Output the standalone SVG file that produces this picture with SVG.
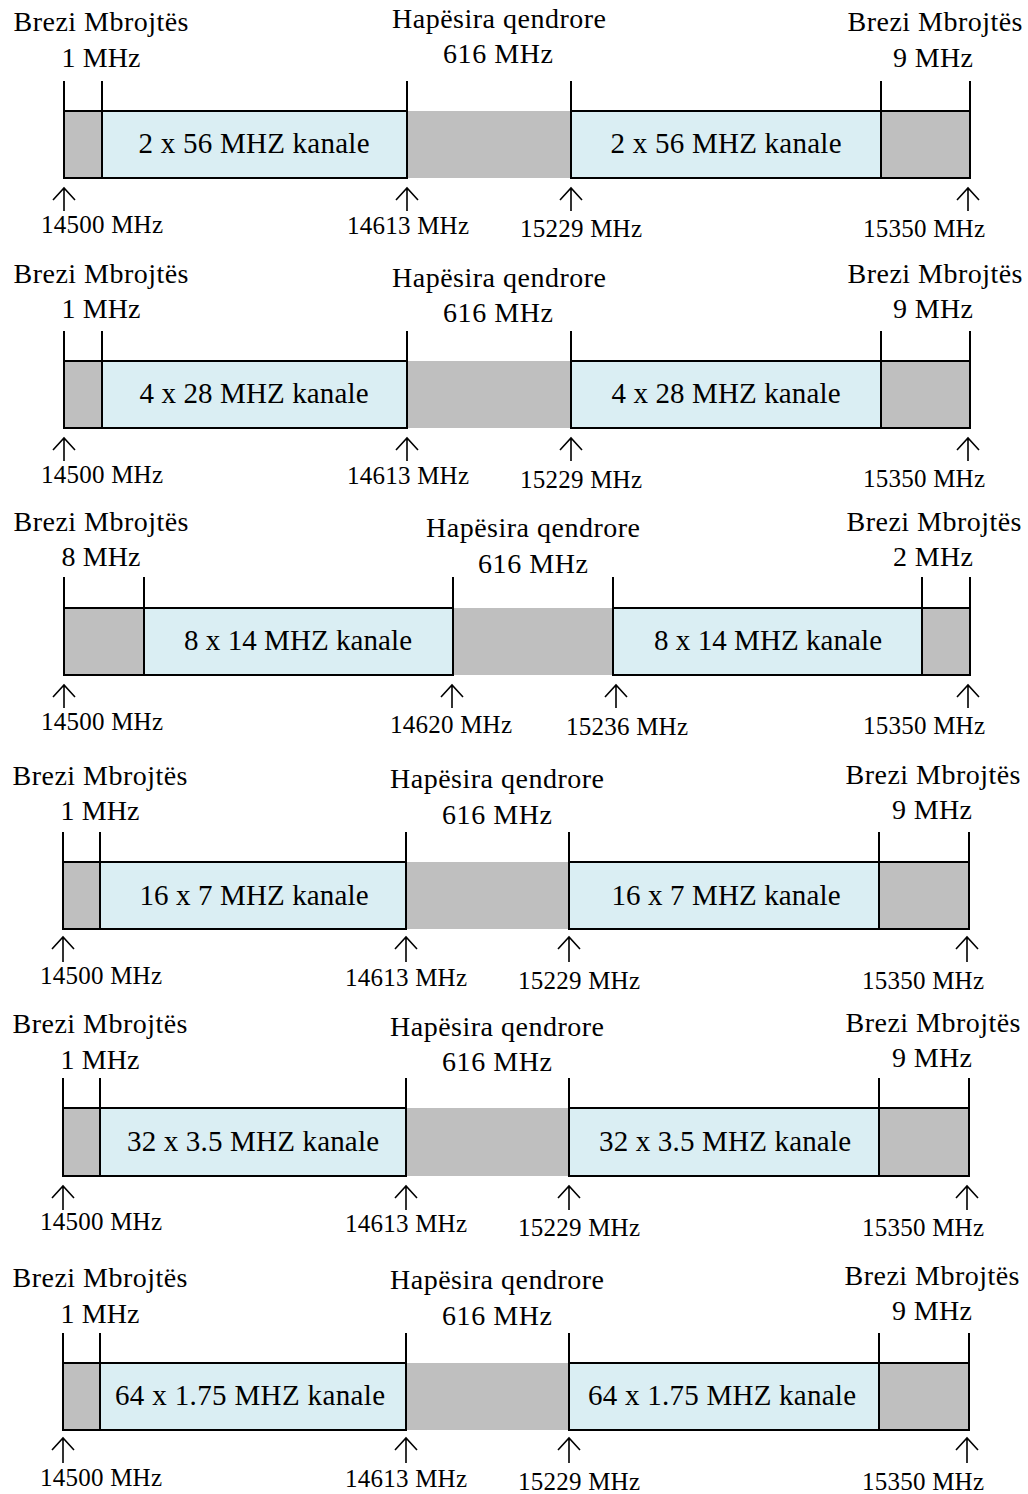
<svg xmlns="http://www.w3.org/2000/svg" width="1028" height="1494" viewBox="0 0 1028 1494">
<style>
text{font-family:"Liberation Serif","Times New Roman",serif;fill:#000}
.t{font-size:28px;text-anchor:middle}
.c{font-size:29px;text-anchor:middle}
.f{font-size:25px;text-anchor:middle}
.g{fill:#BFBFBF;stroke:#000;stroke-width:2}
.gap{fill:#BFBFBF;stroke:none}
.b{fill:#DAEEF3;stroke:#000;stroke-width:2}
.tk{stroke:#000;stroke-width:2;fill:none}
.ar{stroke:#000;stroke-width:1.6;fill:none}
</style>
<rect width="1028" height="1494" fill="#fff"/>

<!-- Band 1 -->
<g id="band1">
<g id="b1-gap"><rect class="gap" x="407" y="111" width="164" height="67"/></g>
<g id="b1-guardL"><rect class="g" x="64" y="111" width="38" height="67"/></g>
<g id="b1-chL"><rect class="b" x="102" y="111" width="305" height="67"/><text class="c" x="254" y="153" textLength="231">2 x 56 MHZ kanale</text></g>
<g id="b1-chR"><rect class="b" x="571" y="111" width="310" height="67"/><text class="c" x="726" y="153" textLength="231">2 x 56 MHZ kanale</text></g>
<g id="b1-guardR"><rect class="g" x="881" y="111" width="89" height="67"/></g>
<path class="tk" d="M64 81V111M102 81V111M407 81V111M571 81V111M881 81V111M970 81V111"/>
<text class="t" x="101" y="31" textLength="175">Brezi Mbrojtës</text>
<text class="t" x="101" y="67" textLength="79">1 MHz</text>
<text class="t" x="499" y="28" textLength="214">Hapësira qendrore</text>
<text class="t" x="498" y="63" textLength="110">616 MHz</text>
<text class="t" x="935" y="31" textLength="175">Brezi Mbrojtës</text>
<text class="t" x="933" y="67" textLength="80">9 MHz</text>
<text class="f" x="102" y="233" textLength="122">14500 MHz</text>
<text class="f" x="408" y="234" textLength="122">14613 MHz</text>
<text class="f" x="581" y="237" textLength="122">15229 MHz</text>
<text class="f" x="924" y="237" textLength="122">15350 MHz</text>
</g>

<!-- Band 2 -->
<g id="band2">
<g id="b2-gap"><rect class="gap" x="407" y="361" width="164" height="67"/></g>
<g id="b2-guardL"><rect class="g" x="64" y="361" width="38" height="67"/></g>
<g id="b2-chL"><rect class="b" x="102" y="361" width="305" height="67"/><text class="c" x="254" y="403" textLength="229">4 x 28 MHZ kanale</text></g>
<g id="b2-chR"><rect class="b" x="571" y="361" width="310" height="67"/><text class="c" x="726" y="403" textLength="229">4 x 28 MHZ kanale</text></g>
<g id="b2-guardR"><rect class="g" x="881" y="361" width="89" height="67"/></g>
<path class="tk" d="M64 331V361M102 331V361M407 331V361M571 331V361M881 331V361M970 331V361"/>
<text class="t" x="101" y="283" textLength="175">Brezi Mbrojtës</text>
<text class="t" x="101" y="318" textLength="79">1 MHz</text>
<text class="t" x="499" y="287" textLength="214">Hapësira qendrore</text>
<text class="t" x="498" y="322" textLength="110">616 MHz</text>
<text class="t" x="935" y="283" textLength="175">Brezi Mbrojtës</text>
<text class="t" x="933" y="318" textLength="80">9 MHz</text>
<text class="f" x="102" y="483" textLength="122">14500 MHz</text>
<text class="f" x="408" y="484" textLength="122">14613 MHz</text>
<text class="f" x="581" y="488" textLength="122">15229 MHz</text>
<text class="f" x="924" y="487" textLength="122">15350 MHz</text>
</g>

<!-- Band 3 -->
<g id="band3">
<g id="b3-gap"><rect class="gap" x="453" y="608" width="160" height="67"/></g>
<g id="b3-guardL"><rect class="g" x="64" y="608" width="80" height="67"/></g>
<g id="b3-chL"><rect class="b" x="144" y="608" width="309" height="67"/><text class="c" x="298" y="650" textLength="228">8 x 14 MHZ kanale</text></g>
<g id="b3-chR"><rect class="b" x="613" y="608" width="309" height="67"/><text class="c" x="768" y="650" textLength="228">8 x 14 MHZ kanale</text></g>
<g id="b3-guardR"><rect class="g" x="922" y="608" width="48" height="67"/></g>
<path class="tk" d="M64 577V608M144 577V608M453 577V608M613 577V608M922 577V608M970 577V608"/>
<text class="t" x="101" y="531" textLength="175">Brezi Mbrojtës</text>
<text class="t" x="101" y="566" textLength="79">8 MHz</text>
<text class="t" x="533" y="537" textLength="214">Hapësira qendrore</text>
<text class="t" x="533" y="573" textLength="110">616 MHz</text>
<text class="t" x="934" y="531" textLength="175">Brezi Mbrojtës</text>
<text class="t" x="933" y="566" textLength="80">2 MHz</text>
<text class="f" x="102" y="730" textLength="122">14500 MHz</text>
<text class="f" x="451" y="733" textLength="122">14620 MHz</text>
<text class="f" x="627" y="735" textLength="122">15236 MHz</text>
<text class="f" x="924" y="734" textLength="122">15350 MHz</text>
</g>

<!-- Band 4 -->
<g id="band4">
<g id="b4-gap"><rect class="gap" x="406" y="862" width="163" height="67"/></g>
<g id="b4-guardL"><rect class="g" x="63" y="862" width="37" height="67"/></g>
<g id="b4-chL"><rect class="b" x="100" y="862" width="306" height="67"/><text class="c" x="254" y="905" textLength="229">16 x 7 MHZ kanale</text></g>
<g id="b4-chR"><rect class="b" x="569" y="862" width="310" height="67"/><text class="c" x="726" y="905" textLength="229">16 x 7 MHZ kanale</text></g>
<g id="b4-guardR"><rect class="g" x="879" y="862" width="90" height="67"/></g>
<path class="tk" d="M63 832V862M100 832V862M406 832V862M569 832V862M879 832V862M969 832V862"/>
<text class="t" x="100" y="785" textLength="175">Brezi Mbrojtës</text>
<text class="t" x="100" y="820" textLength="79">1 MHz</text>
<text class="t" x="497" y="788" textLength="214">Hapësira qendrore</text>
<text class="t" x="497" y="824" textLength="110">616 MHz</text>
<text class="t" x="933" y="784" textLength="175">Brezi Mbrojtës</text>
<text class="t" x="932" y="819" textLength="80">9 MHz</text>
<text class="f" x="101" y="984" textLength="122">14500 MHz</text>
<text class="f" x="406" y="986" textLength="122">14613 MHz</text>
<text class="f" x="579" y="989" textLength="122">15229 MHz</text>
<text class="f" x="923" y="989" textLength="122">15350 MHz</text>
</g>

<!-- Band 5 -->
<g id="band5">
<g id="b5-gap"><rect class="gap" x="406" y="1108" width="163" height="68"/></g>
<g id="b5-guardL"><rect class="g" x="63" y="1108" width="37" height="68"/></g>
<g id="b5-chL"><rect class="b" x="100" y="1108" width="306" height="68"/><text class="c" x="253" y="1151" textLength="252">32 x 3.5 MHZ kanale</text></g>
<g id="b5-chR"><rect class="b" x="569" y="1108" width="310" height="68"/><text class="c" x="725" y="1151" textLength="252">32 x 3.5 MHZ kanale</text></g>
<g id="b5-guardR"><rect class="g" x="879" y="1108" width="90" height="68"/></g>
<path class="tk" d="M63 1078V1108M100 1078V1108M406 1078V1108M569 1078V1108M879 1078V1108M969 1078V1108"/>
<text class="t" x="100" y="1033" textLength="175">Brezi Mbrojtës</text>
<text class="t" x="100" y="1069" textLength="79">1 MHz</text>
<text class="t" x="497" y="1036" textLength="214">Hapësira qendrore</text>
<text class="t" x="497" y="1071" textLength="110">616 MHz</text>
<text class="t" x="933" y="1032" textLength="175">Brezi Mbrojtës</text>
<text class="t" x="932" y="1067" textLength="80">9 MHz</text>
<text class="f" x="101" y="1230" textLength="122">14500 MHz</text>
<text class="f" x="406" y="1232" textLength="122">14613 MHz</text>
<text class="f" x="579" y="1236" textLength="122">15229 MHz</text>
<text class="f" x="923" y="1236" textLength="122">15350 MHz</text>
</g>

<!-- Band 6 -->
<g id="band6">
<g id="b6-gap"><rect class="gap" x="406" y="1363" width="163" height="67"/></g>
<g id="b6-guardL"><rect class="g" x="63" y="1363" width="37" height="67"/></g>
<g id="b6-chL"><rect class="b" x="100" y="1363" width="306" height="67"/><text class="c" x="250" y="1405" textLength="270">64 x 1.75 MHZ kanale</text></g>
<g id="b6-chR"><rect class="b" x="569" y="1363" width="310" height="67"/><text class="c" x="722" y="1405" textLength="268">64 x 1.75 MHZ kanale</text></g>
<g id="b6-guardR"><rect class="g" x="879" y="1363" width="90" height="67"/></g>
<path class="tk" d="M63 1333V1363M100 1333V1363M406 1333V1363M569 1333V1363M879 1333V1363M969 1333V1363"/>
<text class="t" x="100" y="1287" textLength="175">Brezi Mbrojtës</text>
<text class="t" x="100" y="1323" textLength="79">1 MHz</text>
<text class="t" x="497" y="1289" textLength="214">Hapësira qendrore</text>
<text class="t" x="497" y="1325" textLength="110">616 MHz</text>
<text class="t" x="932" y="1285" textLength="175">Brezi Mbrojtës</text>
<text class="t" x="932" y="1320" textLength="80">9 MHz</text>
<text class="f" x="101" y="1486" textLength="122">14500 MHz</text>
<text class="f" x="406" y="1487" textLength="122">14613 MHz</text>
<text class="f" x="579" y="1490" textLength="122">15229 MHz</text>
<text class="f" x="923" y="1490" textLength="122">15350 MHz</text>
</g>

<!-- Connectors: frequency arrows -->
<g id="connectors" class="ar">
<path d="M64 211V188M53 200L64 188L75 200"/>
<path d="M407 211V188M396 200L407 188L418 200"/>
<path d="M571 211V188M560 200L571 188L582 200"/>
<path d="M968 211V188M957 200L968 188L979 200"/>

<path d="M64 461V438M53 450L64 438L75 450"/>
<path d="M407 461V438M396 450L407 438L418 450"/>
<path d="M571 461V438M560 450L571 438L582 450"/>
<path d="M968 461V438M957 450L968 438L979 450"/>

<path d="M64 708V685M53 697L64 685L75 697"/>
<path d="M452 708V685M441 697L452 685L463 697"/>
<path d="M616 708V685M605 697L616 685L627 697"/>
<path d="M968 708V685M957 697L968 685L979 697"/>

<path d="M63 962V937M52 949L63 937L74 949"/>
<path d="M406 962V937M395 949L406 937L417 949"/>
<path d="M569 962V937M558 949L569 937L580 949"/>
<path d="M967 962V937M956 949L967 937L978 949"/>

<path d="M63 1210V1186M52 1198L63 1186L74 1198"/>
<path d="M406 1210V1186M395 1198L406 1186L417 1198"/>
<path d="M569 1210V1186M558 1198L569 1186L580 1198"/>
<path d="M967 1210V1186M956 1198L967 1186L978 1198"/>

<path d="M63 1463V1438M52 1450L63 1438L74 1450"/>
<path d="M406 1463V1438M395 1450L406 1438L417 1450"/>
<path d="M569 1463V1438M558 1450L569 1438L580 1450"/>
<path d="M967 1463V1438M956 1450L967 1438L978 1450"/>
</g>
</svg>
